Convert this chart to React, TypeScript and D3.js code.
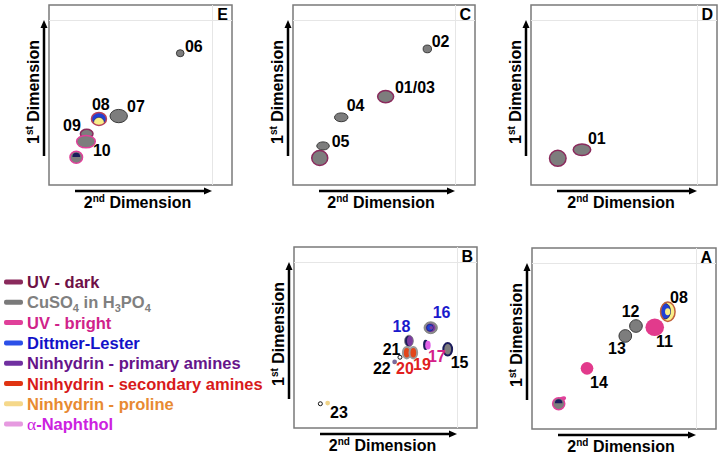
import React from 'react';
import * as d3 from 'd3';

const FONT = "'Liberation Sans', Arial, Helvetica, sans-serif";

// ---------- legend data ----------
const legendLabels = [
  'UV - dark',
  'CuSO4 in H3PO4',
  'UV - bright',
  'Dittmer-Lester',
  'Ninhydrin - primary amines',
  'Ninhydrin - secondary amines',
  'Ninhydrin - proline',
  'α-Naphthol',
];
const legendTextColors = ['#6e1046', '#808080', '#d0228a', '#1212c8', '#66148a', '#d81a1a', '#e88a32', '#cc22e0'];
const legendSwatchColors = ['#8a2a5c', '#7a7a7a', '#e0409a', '#2b50e8', '#7030a0', '#e03412', '#f5d88a', '#e69ae0'];

// ---------- spot data (x = 2nd dimension, y = 1st dimension, w/h = spot size; 0-100 units) ----------
type Spot = { id: string; x: number; y: number; w: number; h: number; stain: string };

const spotsE: Spot[] = [
  { id: '06', x: 71.7, y: 73.2, w: 4.2, h: 3.9, stain: 'cu' },
  { id: '07', x: 38.1, y: 38.3, w: 9.5, h: 7.4, stain: 'cu' },
  { id: '08', x: 27.3, y: 36.7, w: 8.2, h: 7.2, stain: 'dittmerDome' },
  { id: '09', x: 20.6, y: 28.5, w: 6.9, h: 4.9, stain: 'cuDark' },
  { id: '10', x: 20.2, y: 24.1, w: 10.2, h: 6.9, stain: 'cuBright' },
  { id: '', x: 14.9, y: 15.4, w: 6.9, h: 6.7, stain: 'cuBrightCap' },
];
const spotsC: Spot[] = [
  { id: '02', x: 73.8, y: 75.6, w: 4.6, h: 4.3, stain: 'cu' },
  { id: '01/03', x: 50.9, y: 49.1, w: 8.8, h: 6.8, stain: 'cuDark' },
  { id: '04', x: 26.5, y: 37.6, w: 7.4, h: 4.9, stain: 'cu' },
  { id: '05', x: 16.5, y: 21.7, w: 6.9, h: 4.5, stain: 'cu' },
  { id: '', x: 14.7, y: 15.0, w: 8.8, h: 8.2, stain: 'cuDark' },
];
const spotsD: Spot[] = [
  { id: '01', x: 27.4, y: 19.6, w: 9.4, h: 6.4, stain: 'cuDark' },
  { id: '', x: 14.4, y: 14.8, w: 8.9, h: 8.9, stain: 'cuDark' },
];
const spotsB: Spot[] = [
  { id: '16', x: 74.7, y: 55.4, w: 7.3, h: 6.6, stain: 'dittmerRing' },
  { id: '18', x: 62.8, y: 48.1, w: 4.8, h: 6.4, stain: 'ninPrimary' },
  { id: '17', x: 72.5, y: 45.9, w: 4.6, h: 5.6, stain: 'naphthol' },
  { id: '15', x: 84.0, y: 43.5, w: 4.8, h: 7.0, stain: 'cuNavy' },
  { id: '20', x: 61.6, y: 41.6, w: 4.2, h: 6.4, stain: 'ninSecondary' },
  { id: '19', x: 65.2, y: 41.6, w: 4.2, h: 6.4, stain: 'ninSecondary' },
  { id: '21', x: 57.9, y: 39.1, w: 2.2, h: 2.2, stain: 'ring' },
  { id: '22', x: 55.0, y: 36.5, w: 2.6, h: 2.6, stain: 'ninPrimarySmall' },
  { id: '23', x: 14.4, y: 13.4, w: 2.2, h: 2.2, stain: 'ring' },
  { id: '', x: 18.4, y: 13.8, w: 2.6, h: 2.6, stain: 'proline' },
];
const spotsA: Spot[] = [
  { id: '14', x: 29.9, y: 33.5, w: 6.9, h: 7.0, stain: 'bright' },
  { id: '13', x: 50.7, y: 51.4, w: 6.9, h: 7.0, stain: 'cu' },
  { id: '12', x: 56.5, y: 56.9, w: 6.9, h: 7.0, stain: 'cu' },
  { id: '11', x: 66.7, y: 56.2, w: 10.1, h: 9.6, stain: 'bright' },
  { id: '08', x: 73.8, y: 64.8, w: 7.9, h: 10.7, stain: 'dittmerC' },
  { id: '', x: 14.5, y: 14.0, w: 6.6, h: 6.6, stain: 'cuBrightSwoosh' },
];

// label colours of spot numbers (default black)
const labelColorIds = ['16', '18', '17', '19', '20'];
const labelColorValues = ['#1a1acc', '#1a1acc', '#d4208a', '#e02020', '#e02020'];

// ---------- layout (pixel offsets of number labels from spot centre) ----------
const labelOffsetsE = [
  { id: '06', dx: 4.7, dy: -1.3 }, { id: '07', dx: 8.3, dy: -4 }, { id: '08', dx: -7, dy: -9 },
  { id: '09', dx: -23.7, dy: -3 }, { id: '10', dx: 7, dy: 14.3 },
];
const labelOffsetsC = [
  { id: '02', dx: 4.4, dy: -2.3 }, { id: '01/03', dx: 9.3, dy: -3.4 }, { id: '04', dx: 5.4, dy: -6.3 },
  { id: '05', dx: 8.7, dy: 0.7 },
];
const labelOffsetsD = [{ id: '01', dx: 6, dy: -5.7 }];
const labelOffsetsB = [
  { id: '16', dx: 2, dy: -10 }, { id: '18', dx: -16.3, dy: -9.3 }, { id: '17', dx: 1.3, dy: 16.7 },
  { id: '15', dx: 3, dy: 19 }, { id: '19', dx: -0.3, dy: 17.3 }, { id: '20', dx: -10.7, dy: 21.3 },
  { id: '21', dx: -17.3, dy: -2.3 }, { id: '22', dx: -21.7, dy: 12 }, { id: '23', dx: 9.7, dy: 14 },
];
const labelOffsetsA = [
  { id: '08', dx: 2.3, dy: -9 }, { id: '11', dx: 1.3, dy: 20 }, { id: '12', dx: -14.3, dy: -8.7 },
  { id: '13', dx: -17.3, dy: 18 }, { id: '14', dx: 3, dy: 20 },
];

const panels = [
  { name: 'E', spots: spotsE, labels: labelOffsetsE, left: 49, top: 5, right: 232, bottom: 185 },
  { name: 'C', spots: spotsC, labels: labelOffsetsC, left: 293, top: 5, right: 475, bottom: 185 },
  { name: 'D', spots: spotsD, labels: labelOffsetsD, left: 531, top: 5, right: 717, bottom: 185 },
  { name: 'B', spots: spotsB, labels: labelOffsetsB, left: 294, top: 247, right: 477, bottom: 428 },
  { name: 'A', spots: spotsA, labels: labelOffsetsA, left: 532, top: 248, right: 716, bottom: 429 },
];

const GRAY = '#7d7d7d';
const NAVY = '#1c1c5c';
const BLUE = '#2040d4';
const YELLOW = '#f8ee88';
const PURPLE = '#7b3aa0';
const PINK = '#e23a8c';

function SpotMark({ s, xs, ys, uid }: { s: Spot; xs: any; ys: any; uid: string }) {
  const cx = xs(s.x);
  const cy = ys(s.y);
  const rx = Math.abs(xs(s.w) - xs(0)) / 2;
  const ry = Math.abs(ys(0) - ys(s.h)) / 2;
  const clipId = `clip-${uid}`;
  const clip = (
    <clipPath id={clipId}>
      <ellipse cx={cx} cy={cy} rx={rx} ry={ry} />
    </clipPath>
  );
  const cap = (
    <path
      d={`M${cx - 0.62 * rx},${cy - 0.05 * ry} A${0.62 * rx},${0.7 * ry} 0 0 1 ${cx + 0.62 * rx},${cy - 0.05 * ry} Z`}
      fill={NAVY}
    />
  );
  switch (s.stain) {
    case 'cu':
      return <ellipse cx={cx} cy={cy} rx={rx} ry={ry} fill={GRAY} stroke="#3a3a3a" strokeWidth={1} />;
    case 'cuDark':
      return <ellipse cx={cx} cy={cy} rx={rx} ry={ry} fill={GRAY} stroke="#8a2a5c" strokeWidth={1.5} />;
    case 'cuBright':
      return <ellipse cx={cx} cy={cy} rx={rx} ry={ry} fill={GRAY} stroke="#e0409a" strokeWidth={1.5} />;
    case 'cuBrightCap':
      return (
        <g>
          <ellipse cx={cx} cy={cy} rx={rx} ry={ry} fill={GRAY} stroke="#e0409a" strokeWidth={1.5} />
          {cap}
        </g>
      );
    case 'cuBrightSwoosh':
      return (
        <g>
          <ellipse cx={cx + 0.5 * rx} cy={cy - 0.75 * ry} rx={0.75 * rx} ry={0.4 * ry} fill="#e0409a"
            transform={`rotate(-20 ${cx + 0.5 * rx} ${cy - 0.75 * ry})`} />
          <ellipse cx={cx} cy={cy} rx={rx} ry={ry} fill={GRAY} stroke="#e0409a" strokeWidth={1.5} />
          {cap}
        </g>
      );
    case 'dittmerDome':
      return (
        <g>
          {clip}
          <ellipse cx={cx} cy={cy} rx={rx} ry={ry} fill={BLUE} />
          <ellipse cx={cx} cy={cy + 0.6 * ry} rx={0.72 * rx} ry={0.85 * ry} fill={YELLOW} stroke={NAVY} strokeWidth={0.6} clipPath={`url(#${clipId})`} />
          <ellipse cx={cx} cy={cy} rx={rx} ry={ry} fill="none" stroke="#b8405a" strokeWidth={1.5} />
        </g>
      );
    case 'dittmerC':
      return (
        <g>
          {clip}
          <ellipse cx={cx} cy={cy} rx={rx} ry={ry} fill={YELLOW} />
          <ellipse cx={cx - 0.35 * rx} cy={cy - 0.05 * ry} rx={0.72 * rx} ry={0.8 * ry} fill={BLUE} stroke={NAVY} strokeWidth={0.8} clipPath={`url(#${clipId})`} />
          <ellipse cx={cx - 0.02 * rx} cy={cy} rx={0.36 * rx} ry={0.36 * ry} fill={YELLOW} />
          <ellipse cx={cx} cy={cy} rx={rx} ry={ry} fill="none" stroke="#c0603a" strokeWidth={1.5} />
        </g>
      );
    case 'dittmerRing':
      return (
        <g>
          <ellipse cx={cx} cy={cy} rx={rx} ry={ry} fill="#8c8c8c" stroke="#777" strokeWidth={0.8} />
          <ellipse cx={cx} cy={cy} rx={0.72 * rx} ry={0.72 * ry} fill={PURPLE} />
          <ellipse cx={cx - 0.12 * rx} cy={cy} rx={0.5 * rx} ry={0.58 * ry} fill={BLUE} stroke={NAVY} strokeWidth={0.6} />
          <ellipse cx={cx + 0.08 * rx} cy={cy} rx={0.26 * rx} ry={0.28 * ry} fill={PURPLE} />
        </g>
      );
    case 'ninPrimary':
      return (
        <g>
          {clip}
          <ellipse cx={cx} cy={cy} rx={rx} ry={ry} fill={NAVY} />
          <ellipse cx={cx + 0.3 * rx} cy={cy} rx={0.75 * rx} ry={0.95 * ry} fill={PURPLE} clipPath={`url(#${clipId})`} />
          <ellipse cx={cx} cy={cy} rx={rx} ry={ry} fill="none" stroke="#888" strokeWidth={0.8} />
        </g>
      );
    case 'naphthol':
      return (
        <g>
          <ellipse cx={cx - 0.25 * rx} cy={cy} rx={0.6 * rx} ry={ry} fill={NAVY} />
          <ellipse cx={cx + 0.3 * rx} cy={cy + 0.05 * ry} rx={0.65 * rx} ry={0.85 * ry} fill="#e060e8" />
        </g>
      );
    case 'cuNavy':
      return <ellipse cx={cx} cy={cy} rx={rx} ry={ry} fill={GRAY} stroke={NAVY} strokeWidth={2} />;
    case 'ninSecondary':
      return <ellipse cx={cx} cy={cy} rx={rx} ry={ry} fill="#e2461a" stroke="#9a9a9a" strokeWidth={2} />;
    case 'ring':
      return <ellipse cx={cx} cy={cy} rx={rx} ry={ry} fill="#fff" stroke="#111" strokeWidth={1} />;
    case 'ninPrimarySmall':
      return <ellipse cx={cx} cy={cy} rx={rx} ry={ry} fill="#7a6a9a" />;
    case 'proline':
      return <ellipse cx={cx} cy={cy} rx={rx} ry={ry} fill="#f0d488" />;
    case 'bright':
      return <ellipse cx={cx} cy={cy} rx={rx} ry={ry} fill={PINK} />;
    default:
      return <ellipse cx={cx} cy={cy} rx={rx} ry={ry} fill={GRAY} />;
  }
}

function Panel({ p, pi }: { p: any; pi: number }) {
  const xs = d3.scaleLinear().domain([0, 100]).range([p.left, p.right]);
  const ys = d3.scaleLinear().domain([0, 100]).range([p.bottom, p.top]);
  const ax = p.left - 5;
  const yTip = p.top + 15;
  const yBase = p.bottom - 29;
  const ay = p.bottom + 6;
  const xStart = p.left + 26;
  const xTip = p.right - 20;
  return (
    <g>
      <rect x={p.left} y={p.top} width={p.right - p.left} height={p.bottom - p.top} fill="#fff" stroke="#7a7a7a" strokeWidth={1.5} />
      <line x1={p.left} x2={p.right} y1={p.top + 15.5} y2={p.top + 15.5} stroke="#e6e6e6" strokeWidth={1} />
      <line x1={p.right - 19.5} x2={p.right - 19.5} y1={p.top} y2={p.bottom} stroke="#e6e6e6" strokeWidth={1} />
      <text x={p.right - 4} y={p.top + 15} textAnchor="end" fontFamily={FONT} fontWeight="bold" fontSize={16} fill="#000">{p.name}</text>
      {/* axis arrows */}
      <line x1={ax} x2={ax} y1={yBase} y2={yTip + 6} stroke="#000" strokeWidth={2.5} />
      <path d={`M${ax},${yTip} L${ax - 3.5},${yTip + 8} L${ax + 3.5},${yTip + 8} Z`} fill="#000" />
      <line x1={xStart} x2={xTip - 6} y1={ay} y2={ay} stroke="#000" strokeWidth={2.5} />
      <path d={`M${xTip},${ay} L${xTip - 8},${ay - 3.5} L${xTip - 8},${ay + 3.5} Z`} fill="#000" />
      <text transform={`translate(${p.left - 10},${p.top + 87}) rotate(-90)`} textAnchor="middle" fontFamily={FONT} fontWeight="bold" fontSize={16}>
        <tspan>1</tspan><tspan dy={-6} fontSize={10}>st</tspan><tspan dy={6}> Dimension</tspan>
      </text>
      <text x={(p.left + p.right) / 2 - 3} y={p.bottom + 23} textAnchor="middle" fontFamily={FONT} fontWeight="bold" fontSize={16}>
        <tspan>2</tspan><tspan dy={-6} fontSize={10}>nd</tspan><tspan dy={6}> Dimension</tspan>
      </text>
      {p.spots.map((s: Spot, i: number) => (
        <SpotMark key={i} s={s} xs={xs} ys={ys} uid={`${pi}-${i}`} />
      ))}
      {p.labels.map((l: any, i: number) => {
        const s = p.spots.find((d: Spot) => d.id === l.id);
        const ci = labelColorIds.indexOf(l.id);
        const color = p.name === 'B' && ci >= 0 ? labelColorValues[ci] : '#000';
        return (
          <text key={i} x={xs(s.x) + l.dx} y={ys(s.y) + l.dy} fontFamily={FONT} fontWeight="bold" fontSize={16} fill={color}>
            {l.id}
          </text>
        );
      })}
    </g>
  );
}

function LegendText({ label }: { label: string }) {
  if (label.startsWith('α')) {
    return (
      <>
        <tspan fontFamily="'Liberation Serif', 'Times New Roman', serif" fontWeight="normal" fontSize={17.5}>α</tspan>
        <tspan>{label.slice(1)}</tspan>
      </>
    );
  }
  if (/\d/.test(label)) {
    const parts = label.split(/(\d)/).filter((t) => t !== '');
    let sub = false;
    return (
      <>
        {parts.map((t, i) => {
          if (/^\d$/.test(t)) {
            const el = <tspan key={i} dy={sub ? 0 : 4} fontSize={11}>{t}</tspan>;
            sub = true;
            return el;
          }
          const el = <tspan key={i} dy={sub ? -4 : 0}>{t}</tspan>;
          sub = false;
          return el;
        })}
      </>
    );
  }
  return <>{label}</>;
}

export default function App() {
  const legendY = d3.scaleLinear().domain([0, 1]).range([288, 308.3]);
  return (
    <svg width={720} height={457} style={{ position: 'absolute', left: 0, top: 0, background: '#fff' }}>
      <rect x={0} y={0} width={720} height={457} fill="#fff" />
      {panels.map((p, i) => (
        <Panel key={p.name} p={p} pi={i} />
      ))}
      {legendLabels.map((lab, i) => {
        const by = legendY(i);
        return (
          <g key={lab}>
            <rect x={4} y={by - 8.5} width={19} height={5} rx={2} fill={legendSwatchColors[i]} />
            <text x={27} y={by} fontFamily={FONT} fontWeight="bold" fontSize={16.5} fill={legendTextColors[i]}>
              <LegendText label={lab} />
            </text>
          </g>
        );
      })}
    </svg>
  );
}
